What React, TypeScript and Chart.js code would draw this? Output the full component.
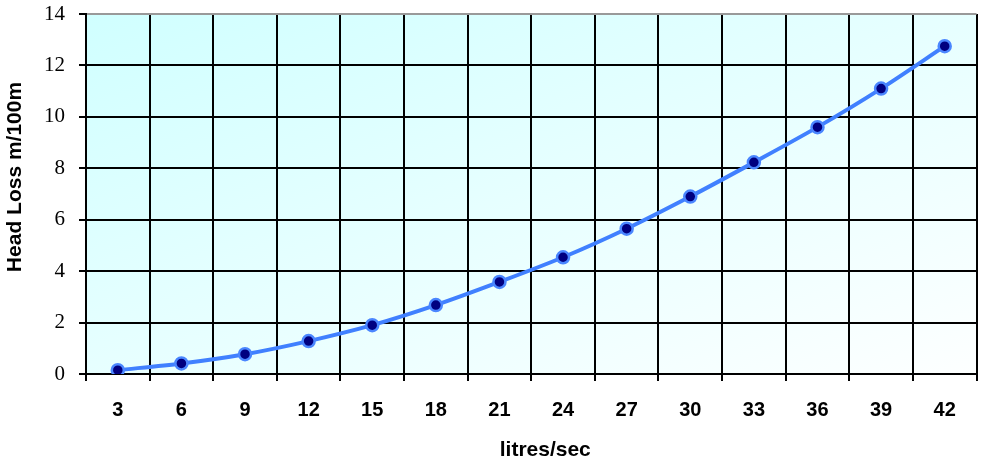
import React, { useEffect, useRef } from "react";
import { Chart, registerables } from "chart.js";

Chart.register(...registerables);

const categories = ["3", "6", "9", "12", "15", "18", "21", "24", "27", "30", "33", "36", "39", "42"];
const headLoss = [0.15, 0.41, 0.77, 1.28, 1.9, 2.68, 3.58, 4.54, 5.65, 6.9, 8.23, 9.6, 11.1, 12.75];
const xTitle = "litres/sec";
const yTitle = "Head Loss m/100m";

const bgPlugin = {
  id: "bgGradient",
  beforeDraw(chart: any) {
    const { ctx, chartArea } = chart;
    if (!chartArea) return;
    const { left, top, right, bottom } = chartArea;
    ctx.save();
    ctx.translate(left, top);
    ctx.scale(right - left, bottom - top);
    const g = ctx.createLinearGradient(0, 0, 1, 1);
    g.addColorStop(0, "#d0ffff");
    g.addColorStop(1, "#fdffff");
    ctx.fillStyle = g;
    ctx.fillRect(0, 0, 1, 1);
    ctx.restore();
  },
};

const titlePlugin = {
  id: "axisTitles",
  afterDraw(chart: any) {
    const { ctx, chartArea } = chart;
    ctx.save();
    ctx.fillStyle = "#000";
    ctx.font = "bold 21px 'Liberation Sans', Arial, sans-serif";
    ctx.textAlign = "center";
    ctx.textBaseline = "middle";
    ctx.fillText(xTitle, (chartArea.left + chartArea.right) / 2 + 14, 450);
    ctx.translate(15, (chartArea.top + chartArea.bottom) / 2 - 17);
    ctx.rotate(-Math.PI / 2);
    ctx.fillText(yTitle, 0, 0);
    ctx.restore();
  },
};

export default function App() {
  const ref = useRef<HTMLCanvasElement>(null);
  useEffect(() => {
    document.body.style.margin = "0";
    const chart = new Chart(ref.current as HTMLCanvasElement, {
      type: "line",
      data: {
        labels: categories,
        datasets: [
          {
            data: headLoss,
            borderColor: "#4080ff",
            borderWidth: 4,
            tension: 0.3,
            pointRadius: 6,
            pointBackgroundColor: "#000080",
            pointBorderColor: "#4a86ff",
            pointBorderWidth: 2.5,
            fill: false,
          },
        ],
      },
      options: {
        responsive: false,
        animation: false,
        layout: { padding: { left: 0, top: 14, right: 5, bottom: 0 } },
        plugins: { legend: { display: false }, tooltip: { enabled: false } },
        scales: {
          x: {
            offset: true,
            grid: {
              offset: true,
              color: (c: any) => (c.index === categories.length ? "#999999" : "#000000"),
              lineWidth: 2,
              tickLength: 7,
              tickColor: "#000000",
            },
            border: { color: "#000000", width: 2 },
            ticks: {
              color: "#000",
              padding: 17,
              font: { family: "'Liberation Sans', Arial, sans-serif", size: 20, weight: "bold" },
              maxRotation: 0,
            },
            afterFit: (s: any) => {
              s.height = 88;
              s.paddingLeft = 0;
              s.paddingRight = 0;
            },
          },
          y: {
            min: 0,
            max: 14,
            ticks: {
              stepSize: 2,
              color: "#000",
              padding: 14,
              font: { family: "'Liberation Serif', 'Times New Roman', serif", size: 21 },
            },
            grid: {
              color: (c: any) => (c.tick && c.tick.value === 14 ? "#999999" : "#000000"),
              lineWidth: 2,
              tickLength: 7,
              tickColor: "#000000",
            },
            border: { color: "#000000", width: 2 },
            afterFit: (s: any) => {
              s.width = 86;
              s.paddingTop = 0;
              s.paddingBottom = 0;
            },
          },
        },
      },
      plugins: [bgPlugin, titlePlugin],
    });
    return () => chart.destroy();
  }, []);
  return <canvas ref={ref} width={985} height={462} style={{ display: "block" }} />;
}
